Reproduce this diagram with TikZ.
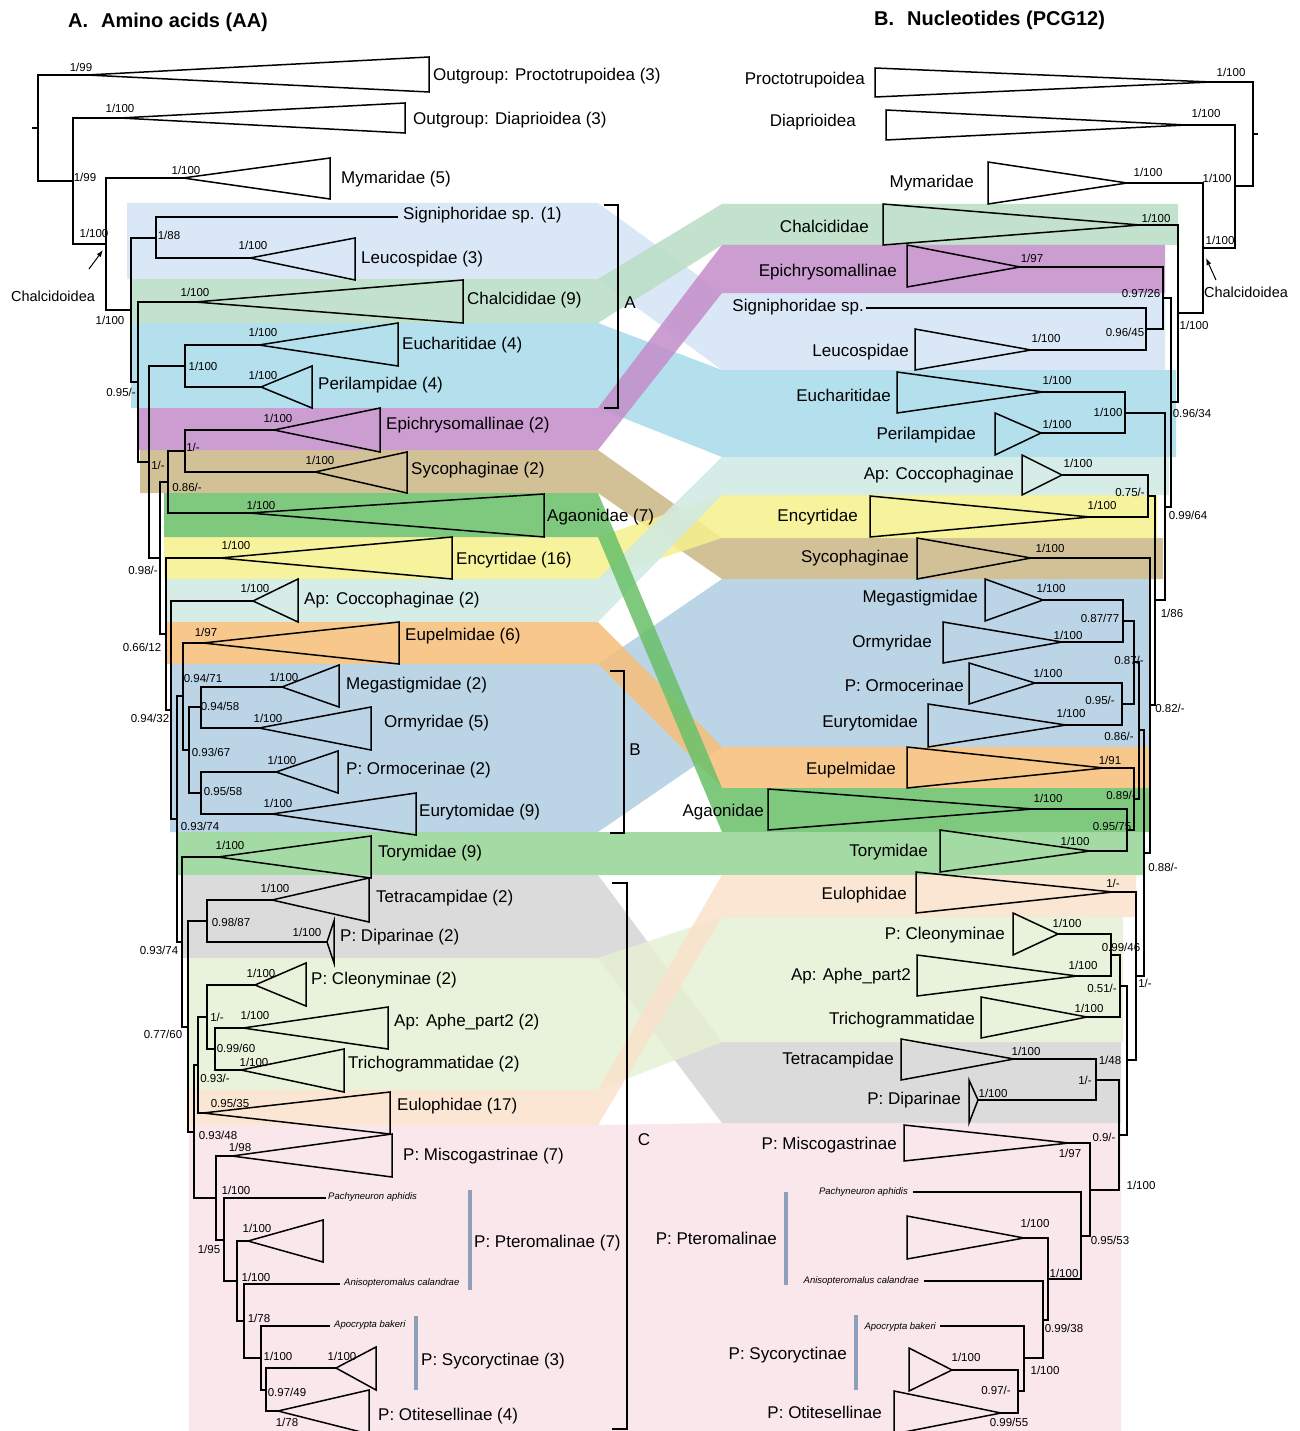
\documentclass[tikz,border=0pt]{standalone}
\usepackage{fontspec}
\setmainfont{Liberation Sans}
\usetikzlibrary{arrows.meta}
\definecolor{cSL}{RGB}{212,228,245}
\definecolor{cCh}{RGB}{185,222,198}
\definecolor{cEP}{RGB}{168,218,234}
\definecolor{cEpi}{RGB}{196,142,202}
\definecolor{cSy}{RGB}{203,183,134}
\definecolor{cAg}{RGB}{106,193,106}
\definecolor{cEn}{RGB}{246,240,140}
\definecolor{cCo}{RGB}{208,234,228}
\definecolor{cEu}{RGB}{246,190,120}
\definecolor{cB}{RGB}{176,206,227}
\definecolor{cTo}{RGB}{150,212,150}
\definecolor{cTe}{RGB}{214,214,214}
\definecolor{cCl}{RGB}{230,241,212}
\definecolor{cEl}{RGB}{250,226,204}
\definecolor{cPk}{RGB}{250,228,234}
\definecolor{cBar}{RGB}{140,160,188}
\newcounter{svc}
\newcommand\sv[3]{\stepcounter{svc}\node[sup] (sv\arabic{svc}) at (#1,#2) {#3};}
\newcommand\band[7]{\fill[#1,fill opacity=.86] (#2,#3) -- (598,#3) -- (722,#5) -- (#7,#5) -- (#7,#6) -- (722,#6) -- (598,#4) -- (#2,#4) -- cycle;}
% left tip: name, apex x, apex y, right x, top, bottom, label x, label y, text
\newcommand\LT[9]{\coordinate (#1) at (#2,#3);
  \draw[br] (#1) -- (#4,#5) -- (#4,#6) -- cycle;
  \node[lab,anchor=west] (#1-t) at (#7,#8) {#9};}
% right tip: name, apex x, apex y, left x, top, bottom, label x (east), label y, text
\newcommand\RT[9]{\coordinate (#1) at (#2,#3);
  \draw[br] (#1) -- (#4,#5) -- (#4,#6) -- cycle;
  \node[lab,anchor=east] (#1-t) at (#7,#8) {#9};}
\begin{document}
\begin{tikzpicture}[x=1pt,y=-1pt,
  br/.style={line width=1.5pt},
  bk/.style={line width=1.6pt},
  gbar/.style={line width=4pt,cBar},
  lab/.style={font=\fontsize{17}{19}\selectfont,inner sep=0pt},
  grp/.style={font=\fontsize{17}{19}\selectfont,inner sep=0pt},
  sup/.style={font=\fontsize{11.5}{12}\selectfont,inner sep=0pt},
  spc/.style={font=\fontsize{9.5}{10}\selectfont\itshape,inner sep=0pt},
  ttl/.style={font=\fontsize{20}{22}\selectfont\bfseries,inner sep=0pt},
  arr/.style={line width=1pt,-{Latex[length=7pt,width=5pt]}}]
\clip (0,0) rectangle (1299,1431);
\fill[white] (0,0) rectangle (1299,1431);
% ---------- coloured bands and ribbons ----------
\band{cSL}{127}{203}{279}{293}{370}{1165}
\band{cCh}{131}{279}{323}{204}{245}{1178}
\band{cEP}{131}{323}{408}{370}{457}{1176}
\band{cSy}{140}{450}{493}{538}{579}{1163}
\band{cEn}{164}{537}{579}{495}{538}{1157}
\band{cCo}{166}{579}{622}{457}{495}{1169}
\band{cB}{170}{664}{832}{579}{747}{1150}
\band{cEu}{166}{622}{664}{747}{788}{1150}
\band{cEpi}{137}{408}{450}{245}{293}{1165}
\band{cAg}{164}{493}{537}{788}{832}{1150}
\band{cTo}{176}{832}{875}{832}{875}{1144}
\band{cTe}{183}{875}{958}{1042}{1123}{1121}
\band{cCl}{187}{958}{1090}{917}{1042}{1123}
\band{cEl}{187}{1090}{1125}{875}{917}{1136}
\band{cPk}{189}{1125}{1440}{1123}{1440}{1121}
% ---------- titles ----------
\node[ttl,anchor=west] (titleA) at (68,22) {A.\hspace{13pt}Amino acids (AA)};
\node[ttl,anchor=west] (titleB) at (874,20) {B.\hspace{13pt}Nucleotides (PCG12)};
% ================= LEFT TREE =================
\LT{lPr}{87}{75}{429}{57}{92}{433}{76}{Outgroup: Proctotrupoidea (3)}
\LT{lDi}{120}{118}{405}{103}{133}{413}{120}{Outgroup: Diaprioidea (3)}
\LT{lMy}{183}{178}{330}{158}{199}{341}{179}{Mymaridae (5)}
\coordinate (lSi) at (398,217);
\node[lab,anchor=west] (lSi-t) at (403,215) {Signiphoridae sp. (1)};
\LT{lLe}{250}{258}{355}{238}{280}{361}{259}{Leucospidae (3)}
\LT{lCh}{195}{302}{463}{280}{323}{467}{300}{Chalcididae (9)}
\LT{lEc}{259}{345}{398}{323}{366}{402}{345}{Eucharitidae (4)}
\LT{lPe}{261}{387}{312}{366}{408}{318}{385}{Perilampidae (4)}
\LT{lEp}{274}{430}{380}{408}{452}{386}{425}{Epichrysomallinae (2)}
\LT{lSy}{315}{472}{407}{452}{493}{411}{470}{Sycophaginae (2)}
\LT{lAg}{249}{513}{544}{494}{537}{547}{517}{Agaonidae (7)}
\LT{lEn}{220}{558}{452}{537}{579}{456}{560}{Encyrtidae (16)}
\LT{lCo}{253}{601}{298}{579}{622}{304}{600}{Ap: Coccophaginae (2)}
\LT{lEu}{203}{643}{399}{622}{664}{405}{636}{Eupelmidae (6)}
\LT{lMe}{282}{687}{339}{665}{707}{346}{685}{Megastigmidae (2)}
\LT{lOr}{259}{728}{371}{707}{750}{384}{723}{Ormyridae (5)}
\LT{lOc}{276}{772}{338}{751}{793}{346}{770}{P: Ormocerinae (2)}
\LT{lEt}{272}{814}{416}{793}{835}{419}{812}{Eurytomidae (9)}
\LT{lTo}{218}{857}{371}{836}{878}{378}{853}{Torymidae (9)}
\LT{lTe}{272}{900}{369}{878}{922}{376}{898}{Tetracampidae (2)}
\LT{lDp}{327}{942}{334}{921}{963}{340}{937}{P: Diparinae (2)}
\LT{lCl}{255}{985}{306}{963}{1006}{311}{980}{P: Cleonyminae (2)}
\LT{lAp}{243}{1028}{388}{1007}{1049}{394}{1022}{Ap: Aphe\_part2 (2)}
\LT{lTr}{241}{1070}{344}{1049}{1092}{348}{1064}{Trichogrammatidae (2)}
\LT{lEl}{203}{1113}{390}{1092}{1134}{397}{1106}{Eulophidae (17)}
\LT{lMi}{232}{1156}{392}{1134}{1177}{403}{1156}{P: Miscogastrinae (7)}
\coordinate (lPa) at (326,1198);
\node[spc,anchor=west] (lPa-t) at (328,1197) {Pachyneuron aphidis};
\LT{lPt}{248}{1241}{323}{1220}{1262}{323}{1241}{}
\coordinate (lAn) at (340,1284);
\node[spc,anchor=west] (lAn-t) at (344,1283) {Anisopteromalus calandrae};
\coordinate (lAc) at (330,1326);
\node[spc,anchor=west] (lAc-t) at (334,1325) {Apocrypta bakeri};
\LT{lSc}{336}{1368}{376}{1347}{1390}{376}{1368}{}
\LT{lOt}{278}{1411}{369}{1390}{1434}{378}{1416}{P: Otitesellinae (4)}
% internal nodes (left)
\coordinate (L38) at (38,128);
\coordinate (L73) at (73,181);
\coordinate (L106) at (106,244);
\coordinate (L131) at (131,310);
\coordinate (L156) at (156,238);
\coordinate (L138) at (138,382);
\coordinate (L149) at (149,462);
\coordinate (L185) at (185,366);
\coordinate (L160) at (160,558);
\coordinate (L168) at (168,482);
\coordinate (L185b) at (185,451);
\coordinate (L166) at (166,634);
\coordinate (L171) at (171,710);
\coordinate (L177) at (177,819);
\coordinate (L183) at (183,696);
\coordinate (L189) at (189,750);
\coordinate (L201) at (201,707);
\coordinate (L201b) at (201,793);
\coordinate (L182) at (182,942);
\coordinate (L188) at (188,1027);
\coordinate (L207) at (207,921);
\coordinate (L194) at (194,1132);
\coordinate (L198) at (198,1065);
\coordinate (L207c) at (207,1017);
\coordinate (L215) at (215,1049);
\coordinate (L216) at (216,1198);
\coordinate (L224) at (224,1240);
\coordinate (L237) at (237,1281);
\coordinate (L244) at (244,1321);
\coordinate (L261) at (261,1358);
\coordinate (L266) at (266,1390);
\draw[br] (32,128) -- (L38);
\draw[br] (L38) |- (lPr); \draw[br] (L38) |- (L73);
\draw[br] (L73) |- (lDi); \draw[br] (L73) |- (L106);
\draw[br] (L106) |- (lMy); \draw[br] (L106) |- (L131);
\draw[br] (L131) |- (L156); \draw[br] (L131) |- (L138);
\draw[br] (L156) |- (lSi); \draw[br] (L156) |- (lLe);
\draw[br] (L138) |- (lCh); \draw[br] (L138) |- (L149);
\draw[br] (L149) |- (L185); \draw[br] (L149) |- (L160);
\draw[br] (L185) |- (lEc); \draw[br] (L185) |- (lPe);
\draw[br] (L160) |- (L168); \draw[br] (L160) |- (L166);
\draw[br] (L168) |- (L185b); \draw[br] (L168) |- (lAg);
\draw[br] (L185b) |- (lEp); \draw[br] (L185b) |- (lSy);
\draw[br] (L166) |- (lEn); \draw[br] (L166) |- (L171);
\draw[br] (L171) |- (lCo); \draw[br] (L171) |- (L177);
\draw[br] (L177) |- (L183); \draw[br] (L177) |- (L182);
\draw[br] (L183) |- (lEu); \draw[br] (L183) |- (L189);
\draw[br] (L189) |- (L201); \draw[br] (L189) |- (L201b);
\draw[br] (L201) |- (lMe); \draw[br] (L201) |- (lOr);
\draw[br] (L201b) |- (lOc); \draw[br] (L201b) |- (lEt);
\draw[br] (L182) |- (lTo); \draw[br] (L182) |- (L188);
\draw[br] (L188) |- (L207); \draw[br] (L188) |- (L194);
\draw[br] (L207) |- (lTe); \draw[br] (L207) |- (lDp);
\draw[br] (L194) |- (L198); \draw[br] (L194) |- (L216);
\draw[br] (L198) |- (L207c); \draw[br] (L198) |- (lEl);
\draw[br] (L207c) |- (lCl); \draw[br] (L207c) |- (L215);
\draw[br] (L215) |- (lAp); \draw[br] (L215) |- (lTr);
\draw[br] (L216) |- (lMi); \draw[br] (L216) |- (L224);
\draw[br] (L224) |- (lPa); \draw[br] (L224) |- (L237);
\draw[br] (L237) |- (lPt); \draw[br] (L237) |- (L244);
\draw[br] (L244) |- (lAn); \draw[br] (L244) |- (L261);
\draw[br] (L261) |- (lAc); \draw[br] (L261) |- (L266);
\draw[br] (L266) |- (lSc); \draw[br] (L266) |- (lOt);
% brackets and group bars (left)
\draw[bk] (604,205) -- (618,205) -- (618,408) -- (604,408);
\draw[bk] (610,671) -- (624,671) -- (624,833) -- (610,833);
\draw[bk] (612,883) -- (627,883) -- (627,1429) -- (612,1429);
\node[grp] (brA) at (630,303) {A};
\node[grp] (brB) at (635,750) {B};
\node[grp] (brC) at (644,1140) {C};
\draw[gbar] (470,1190) -- (470,1290);
\draw[gbar] (416,1316) -- (416,1390);
\node[grp,anchor=west] (gPtL) at (474,1243) {P: Pteromalinae (7)};
\node[grp,anchor=west] (gScL) at (421,1361) {P: Sycoryctinae (3)};
\node[font=\fontsize{14.5}{16}\selectfont,inner sep=0pt] (chL) at (53,296) {Chalcidoidea};
\coordinate (chLa) at (89,269);
\coordinate (chLb) at (103,250);
\draw[arr] (chLa) -- (chLb);
% ================= RIGHT TREE =================
\RT{rPr}{1211}{82}{875}{68}{97}{865}{80}{Proctotrupoidea}
\RT{rDi}{1186}{125}{886}{110}{140}{856}{122}{Diaprioidea}
\RT{rMy}{1127}{183}{988}{162}{204}{974}{183}{Mymaridae}
\RT{rCh}{1140}{225}{883}{204}{245}{869}{226}{Chalcididae}
\RT{rEp}{1020}{267}{907}{245}{287}{897}{272}{Epichrysomallinae}
\coordinate (rSi) at (866,308);
\node[lab,anchor=east] (rSi-t) at (864,307) {Signiphoridae sp.};
\RT{rLe}{1031}{350}{915}{329}{370}{909}{352}{Leucospidae}
\RT{rEc}{1043}{392}{897}{372}{413}{891}{395}{Eucharitidae}
\RT{rPe}{1041}{433}{995}{413}{455}{976}{435}{Perilampidae}
\RT{rCo}{1062}{475}{1022}{455}{495}{1014}{475}{Ap: Coccophaginae}
\RT{rEn}{1090}{517}{870}{496}{537}{858}{517}{Encyrtidae}
\RT{rSy}{1031}{558}{917}{538}{579}{909}{558}{Sycophaginae}
\RT{rMe}{1043}{600}{985}{579}{621}{978}{598}{Megastigmidae}
\RT{rOr}{1062}{642}{943}{622}{663}{932}{643}{Ormyridae}
\RT{rOc}{1035}{683}{969}{663}{704}{964}{685}{P: Ormocerinae}
\RT{rEt}{1066}{725}{928}{704}{747}{918}{723}{Eurytomidae}
\RT{rEu}{1104}{768}{907}{747}{788}{896}{770}{Eupelmidae}
\RT{rAg}{1033}{809}{768}{789}{830}{764}{812}{Agaonidae}
\RT{rTo}{1090}{851}{940}{830}{872}{928}{852}{Torymidae}
\RT{rEl}{1113}{892}{916}{872}{913}{907}{895}{Eulophidae}
\RT{rCl}{1058}{934}{1013}{913}{955}{1005}{935}{P: Cleonyminae}
\RT{rAp}{1077}{976}{917}{955}{996}{911}{976}{Ap: Aphe\_part2}
\RT{rTr}{1087}{1017}{981}{997}{1038}{975}{1020}{Trichogrammatidae}
\RT{rTe}{1014}{1059}{901}{1039}{1080}{894}{1060}{Tetracampidae}
\RT{rDp}{978}{1100}{969}{1080}{1123}{961}{1100}{P: Diparinae}
\RT{rMi}{1069}{1143}{904}{1125}{1161}{897}{1145}{P: Miscogastrinae}
\coordinate (rPa) at (913,1192);
\node[spc,anchor=east] (rPa-t) at (908,1192) {Pachyneuron aphidis};
\RT{rPt}{1024}{1238}{907}{1216}{1259}{907}{1238}{}
\coordinate (rAn) at (924,1281);
\node[spc,anchor=east] (rAn-t) at (919,1281) {Anisopteromalus calandrae};
\coordinate (rAc) at (940,1326);
\node[spc,anchor=east] (rAc-t) at (936,1327) {Apocrypta bakeri};
\RT{rSc}{952}{1370}{909}{1348}{1391}{909}{1370}{}
\RT{rOt}{1001}{1413}{894}{1391}{1434}{882}{1412}{P: Otitesellinae}
% internal nodes (right)
\coordinate (R1253) at (1253,134);
\coordinate (R1235) at (1235,186);
\coordinate (R1203) at (1203,248);
\coordinate (R1178) at (1178,313);
\coordinate (R1171) at (1171,402);
\coordinate (R1163) at (1163,298);
\coordinate (R1146) at (1146,329);
\coordinate (R1165) at (1165,507);
\coordinate (R1125) at (1125,413);
\coordinate (R1155) at (1155,600);
\coordinate (R1148) at (1148,496);
\coordinate (R1150) at (1150,705);
\coordinate (R1144) at (1144,853);
\coordinate (R1139) at (1139,730);
\coordinate (R1134a) at (1134,662);
\coordinate (R1123) at (1123,621);
\coordinate (R1122) at (1122,704);
\coordinate (R1134b) at (1134,799);
\coordinate (R1127) at (1127,830);
\coordinate (R1136) at (1136,976);
\coordinate (R1127c) at (1127,1060);
\coordinate (R1120) at (1120,986);
\coordinate (R1111) at (1111,955);
\coordinate (R1119) at (1119,1135);
\coordinate (R1096) at (1096,1080);
\coordinate (R1090) at (1090,1190);
\coordinate (R1081) at (1081,1236);
\coordinate (R1048) at (1048,1279);
\coordinate (R1043) at (1043,1320);
\coordinate (R1024) at (1024,1358);
\coordinate (R1018) at (1018,1391);
\draw[br] (R1253) -- (1258,134);
\draw[br] (R1253) |- (rPr); \draw[br] (R1253) |- (R1235);
\draw[br] (R1235) |- (rDi); \draw[br] (R1235) |- (R1203);
\draw[br] (R1203) |- (rMy); \draw[br] (R1203) |- (R1178);
\draw[br] (R1178) |- (rCh); \draw[br] (R1178) |- (R1171);
\draw[br] (R1171) |- (R1163); \draw[br] (R1171) |- (R1165);
\draw[br] (R1163) |- (rEp); \draw[br] (R1163) |- (R1146);
\draw[br] (R1146) |- (rSi); \draw[br] (R1146) |- (rLe);
\draw[br] (R1165) |- (R1125); \draw[br] (R1165) |- (R1155);
\draw[br] (R1125) |- (rEc); \draw[br] (R1125) |- (rPe);
\draw[br] (R1155) |- (R1148); \draw[br] (R1155) |- (R1150);
\draw[br] (R1148) |- (rCo); \draw[br] (R1148) |- (rEn);
\draw[br] (R1150) |- (rSy); \draw[br] (R1150) |- (R1144);
\draw[br] (R1144) |- (R1139); \draw[br] (R1144) |- (R1136);
\draw[br] (R1139) |- (R1134a); \draw[br] (R1139) |- (R1134b);
\draw[br] (R1134a) |- (R1123); \draw[br] (R1134a) |- (R1122);
\draw[br] (R1123) |- (rMe); \draw[br] (R1123) |- (rOr);
\draw[br] (R1122) |- (rOc); \draw[br] (R1122) |- (rEt);
\draw[br] (R1134b) |- (rEu); \draw[br] (R1134b) |- (R1127);
\draw[br] (R1127) |- (rAg); \draw[br] (R1127) |- (rTo);
\draw[br] (R1136) |- (rEl); \draw[br] (R1136) |- (R1127c);
\draw[br] (R1127c) |- (R1120); \draw[br] (R1127c) |- (R1119);
\draw[br] (R1120) |- (R1111); \draw[br] (R1120) |- (rTr);
\draw[br] (R1111) |- (rCl); \draw[br] (R1111) |- (rAp);
\draw[br] (R1119) |- (R1096); \draw[br] (R1119) |- (R1090);
\draw[br] (R1096) |- (rTe); \draw[br] (R1096) |- (rDp);
\draw[br] (R1090) |- (rMi); \draw[br] (R1090) |- (R1081);
\draw[br] (R1081) |- (rPa); \draw[br] (R1081) |- (R1048);
\draw[br] (R1048) |- (rPt); \draw[br] (R1048) |- (R1043);
\draw[br] (R1043) |- (rAn); \draw[br] (R1043) |- (R1024);
\draw[br] (R1024) |- (rAc); \draw[br] (R1024) |- (R1018);
\draw[br] (R1018) |- (rSc); \draw[br] (R1018) |- (rOt);
\draw[gbar] (786,1192) -- (786,1285);
\draw[gbar] (856,1315) -- (856,1390);
\node[grp,anchor=east] (gPtR) at (777,1238) {P: Pteromalinae};
\node[grp,anchor=east] (gScR) at (847,1355) {P: Sycoryctinae};
\node[font=\fontsize{14.5}{16}\selectfont,inner sep=0pt] (chR) at (1246,292) {Chalcidoidea};
\coordinate (chRa) at (1216,280);
\coordinate (chRb) at (1206,258);
\draw[arr] (chRa) -- (chRb);
% ---------- support values ----------
\sv{81}{67}{1/99}
\sv{120}{108}{1/100}
\sv{85}{177}{1/99}
\sv{186}{170}{1/100}
\sv{94}{233}{1/100}
\sv{169}{235}{1/88}
\sv{253}{245}{1/100}
\sv{195}{292}{1/100}
\sv{110}{320}{1/100}
\sv{263}{332}{1/100}
\sv{203}{366}{1/100}
\sv{263}{375}{1/100}
\sv{121}{392}{0.95/-}
\sv{278}{418}{1/100}
\sv{193}{447}{1/-}
\sv{320}{460}{1/100}
\sv{158}{465}{1/-}
\sv{187}{487}{0.86/-}
\sv{261}{505}{1/100}
\sv{236}{545}{1/100}
\sv{143}{570}{0.98/-}
\sv{255}{588}{1/100}
\sv{206}{632}{1/97}
\sv{142}{647}{0.66/12}
\sv{203}{678}{0.94/71}
\sv{284}{677}{1/100}
\sv{220}{706}{0.94/58}
\sv{150}{718}{0.94/32}
\sv{268}{718}{1/100}
\sv{211}{752}{0.93/67}
\sv{282}{760}{1/100}
\sv{223}{791}{0.95/58}
\sv{278}{803}{1/100}
\sv{200}{826}{0.93/74}
\sv{230}{845}{1/100}
\sv{275}{888}{1/100}
\sv{231}{922}{0.98/87}
\sv{307}{932}{1/100}
\sv{159}{950}{0.93/74}
\sv{261}{973}{1/100}
\sv{255}{1015}{1/100}
\sv{217}{1017}{1/-}
\sv{163}{1034}{0.77/60}
\sv{236}{1048}{0.99/60}
\sv{254}{1062}{1/100}
\sv{215}{1078}{0.93/-}
\sv{230}{1103}{0.95/35}
\sv{218}{1135}{0.93/48}
\sv{240}{1147}{1/98}
\sv{236}{1190}{1/100}
\sv{257}{1228}{1/100}
\sv{209}{1249}{1/95}
\sv{256}{1277}{1/100}
\sv{259}{1318}{1/78}
\sv{278}{1356}{1/100}
\sv{342}{1356}{1/100}
\sv{287}{1392}{0.97/49}
\sv{287}{1422}{1/78}
\sv{1231}{72}{1/100}
\sv{1206}{113}{1/100}
\sv{1148}{172}{1/100}
\sv{1217}{178}{1/100}
\sv{1156}{218}{1/100}
\sv{1220}{240}{1/100}
\sv{1032}{258}{1/97}
\sv{1141}{293}{0.97/26}
\sv{1194}{325}{1/100}
\sv{1125}{332}{0.96/45}
\sv{1046}{338}{1/100}
\sv{1057}{380}{1/100}
\sv{1108}{412}{1/100}
\sv{1192}{413}{0.96/34}
\sv{1057}{424}{1/100}
\sv{1078}{463}{1/100}
\sv{1130}{492}{0.75/-}
\sv{1102}{505}{1/100}
\sv{1188}{515}{0.99/64}
\sv{1050}{548}{1/100}
\sv{1051}{588}{1/100}
\sv{1172}{613}{1/86}
\sv{1100}{618}{0.87/77}
\sv{1068}{635}{1/100}
\sv{1129}{660}{0.87/-}
\sv{1048}{673}{1/100}
\sv{1100}{700}{0.95/-}
\sv{1170}{708}{0.82/-}
\sv{1071}{713}{1/100}
\sv{1119}{736}{0.86/-}
\sv{1110}{760}{1/91}
\sv{1121}{795}{0.89/-}
\sv{1048}{798}{1/100}
\sv{1112}{826}{0.95/75}
\sv{1075}{841}{1/100}
\sv{1163}{867}{0.88/-}
\sv{1113}{883}{1/-}
\sv{1067}{923}{1/100}
\sv{1121}{947}{0.99/46}
\sv{1083}{965}{1/100}
\sv{1145}{983}{1/-}
\sv{1102}{988}{0.51/-}
\sv{1089}{1008}{1/100}
\sv{1026}{1051}{1/100}
\sv{1110}{1060}{1/48}
\sv{1085}{1080}{1/-}
\sv{993}{1093}{1/100}
\sv{1104}{1137}{0.9/-}
\sv{1070}{1153}{1/97}
\sv{1141}{1185}{1/100}
\sv{1035}{1223}{1/100}
\sv{1110}{1240}{0.95/53}
\sv{1064}{1273}{1/100}
\sv{1064}{1328}{0.99/38}
\sv{966}{1357}{1/100}
\sv{1045}{1370}{1/100}
\sv{996}{1390}{0.97/-}
\sv{1009}{1422}{0.99/55}
\end{tikzpicture}
\end{document}
